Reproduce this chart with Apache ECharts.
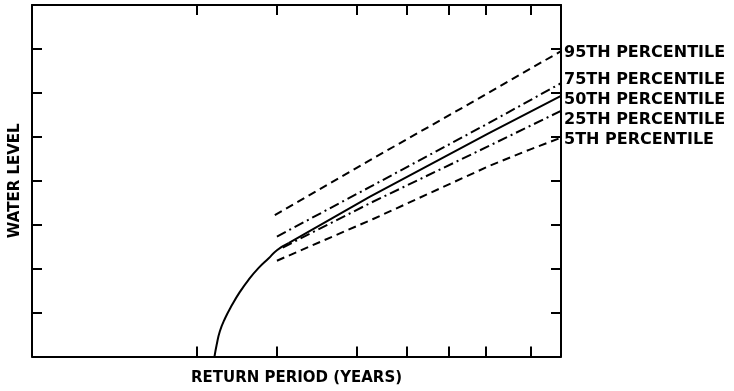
<!DOCTYPE html>
<html><head><meta charset="utf-8">
<script src="https://cdn.jsdelivr.net/npm/echarts@6/dist/echarts.min.js"></script>
<style>html,body{margin:0;padding:0;background:#fff}#c{width:734px;height:391px}</style>
</head><body><div id="c"></div>
<script>
// x axis: relative position along the (non-linear) return-period scale, 0..100
const xTickValues = [31.1, 46.3, 61.4, 70.8, 78.8, 85.8, 94.2];
const yTickInterval = 1;
const seriesNames = ['95TH PERCENTILE', '75TH PERCENTILE', '50TH PERCENTILE', '25TH PERCENTILE', '5TH PERCENTILE'];
const p95 = [[45.9, 3.22], [63.9, 4.47], [82.8, 5.76], [100, 6.95]];
const p75 = [[46.3, 2.73], [63.9, 3.86], [86.3, 5.31], [100, 6.22]];
const p50Curve = [[34.5, 0], [34.9, 0.26], [35.5, 0.57], [36.5, 0.87], [37.8, 1.17], [39.3, 1.47], [40.9, 1.74], [42.8, 2.01], [44.7, 2.23], [46.3, 2.42], [48.5, 2.58]];
const p50 = [[48.5, 2.58], [63.9, 3.64], [86.3, 5.08], [100, 5.93]];
const p25 = [[47.4, 2.48], [63.9, 3.49], [86.0, 4.77], [100, 5.59]];
const p5 = [[46.3, 2.18], [64.5, 3.13], [86.3, 4.33], [94.1, 4.71], [100, 4.98]];

const FONT = 'DejaVu Sans';
const chart = echarts.init(document.getElementById('c'), null, {renderer: 'canvas'});

function axisCommon() {
  return {
    type: 'value',
    axisLine: {show: true, onZero: false, lineStyle: {color: '#000', width: 2}},
    axisTick: {show: true, inside: true, length: 10, lineStyle: {color: '#000', width: 2}},
    axisLabel: {show: false},
    splitLine: {show: false}
  };
}
const xBottom = Object.assign(axisCommon(), {
  position: 'bottom', min: 0, max: 100,
  name: 'RETURN PERIOD (YEARS)', nameLocation: 'middle', nameGap: 14,
  nameTextStyle: {fontFamily: FONT, fontWeight: 'bold', fontSize: 15, color: '#000'}
});
xBottom.axisTick.customValues = xTickValues;
const xTop = Object.assign(axisCommon(), {position: 'top', min: 0, max: 100});
xTop.axisTick.customValues = xTickValues;
const yLeft = Object.assign(axisCommon(), {
  position: 'left', min: 0, max: 8, interval: yTickInterval,
  name: 'WATER LEVEL', nameLocation: 'middle', nameGap: 9,
  nameTextStyle: {fontFamily: FONT, fontWeight: 'bold', fontSize: 15, color: '#000'}
});
const yRight = Object.assign(axisCommon(), {position: 'right', min: 0, max: 8, interval: yTickInterval});

const labelOffsets = [1.5, -3, 4, 8.5, 2];
const dashTypes = [[8, 5], [10, 4, 2, 4], 'solid', [10, 4, 2, 4], [8, 5]];
const datasets = [p95, p75, p50, p25, p5];

const series = datasets.map((d, i) => ({
  type: 'line',
  name: seriesNames[i],
  data: d,
  showSymbol: false,
  symbol: 'none',
  smooth: false,
  clip: false,
  lineStyle: {color: '#000', width: 2, type: dashTypes[i], cap: 'butt', join: 'round'},
  endLabel: {
    show: true,
    formatter: seriesNames[i],
    distance: 3,
    offset: [0, labelOffsets[i]],
    fontFamily: FONT, fontWeight: 'bold', fontSize: 16, color: '#000'
  },
  emphasis: {disabled: true}
}));
series.push({
  type: 'line',
  name: '50TH PERCENTILE (lower)',
  data: p50Curve,
  showSymbol: false,
  symbol: 'none',
  smooth: 0.5,
  clip: false,
  lineStyle: {color: '#000', width: 2, type: 'solid', join: 'round'},
  emphasis: {disabled: true}
});

chart.setOption({
  animation: false,
  backgroundColor: '#fff',
  grid: {left: 32, right: 173, top: 5, bottom: 34.5, containLabel: false, outerBoundsMode: 'none'},
  xAxis: [xBottom, xTop],
  yAxis: [yLeft, yRight],
  series: series
});
</script>
</body></html>
